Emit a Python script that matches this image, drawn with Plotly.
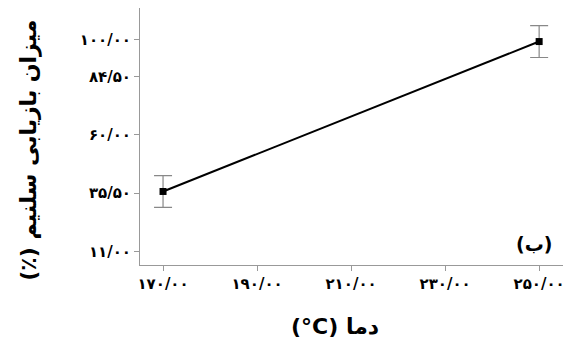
import plotly.graph_objects as go

temps = [170, 250]
recovery = [36.2, 99.2]
err = [6.7, 6.7]

xtick_vals = [170, 190, 210, 230, 250]
xtick_text = ["۱۷۰/۰۰", "۱۹۰/۰۰", "۲۱۰/۰۰", "۲۳۰/۰۰", "۲۵۰/۰۰"]
ytick_vals = [11, 35.5, 60, 84.5, 100]
ytick_text = ["۱۱/۰۰", "۳۵/۵۰", "۶۰/۰۰", "۸۴/۵۰", "۱۰۰/۰۰"]

x_title = "(°C) دما"
y_title = "(٪) میزان بازیابی سلنیم"
panel_label = "(ب)"

font_family = "DejaVu Sans, Noto Sans, sans-serif"

fig = go.Figure()
fig.add_trace(go.Scatter(
    x=temps, y=recovery, mode="lines+markers",
    line=dict(color="black", width=2),
    marker=dict(symbol="square", size=7, color="black"),
    error_y=dict(type="data", array=err, visible=True, color="#888888", thickness=1.2, width=9),
    showlegend=False,
))

fig.add_annotation(
    x=0.975, y=0.03, xref="paper", yref="paper", xanchor="right", yanchor="bottom",
    text="<b>" + panel_label + "</b>", showarrow=False,
    font=dict(family=font_family, size=19, color="black"),
)
fig.add_annotation(
    x=0.459, y=-0.241, xref="paper", yref="paper", xanchor="center", yanchor="middle",
    text="<b>" + x_title + "</b>", showarrow=False,
    font=dict(family=font_family, size=22, color="black"),
)
fig.add_annotation(
    x=-0.262, y=0.447, xref="paper", yref="paper", xanchor="center", yanchor="middle",
    text="<b>" + y_title + "</b>", showarrow=False, textangle=-90,
    font=dict(family=font_family, size=22, color="black"),
)

axis_common = dict(
    showline=True, linecolor="#999999", linewidth=1, mirror=True,
    ticks="outside", ticklen=5, tickcolor="#999999",
    showgrid=False, zeroline=False, automargin=False,
    tickfont=dict(family=font_family, size=15, color="black", weight="bold"),
)

fig.update_xaxes(range=[165.1, 255.5], tickvals=xtick_vals, ticktext=xtick_text, **axis_common)
fig.update_yaxes(range=[5.3, 113.3], tickvals=ytick_vals, ticktext=ytick_text, **axis_common)

# page body has an 8px default margin; compensate so the figure fits the 571x344 window
fig.update_layout(
    width=563, height=336,
    margin=dict(l=132, r=6, t=0, b=79),
    plot_bgcolor="white", paper_bgcolor="white",
)

fig.write_html("out.html")
